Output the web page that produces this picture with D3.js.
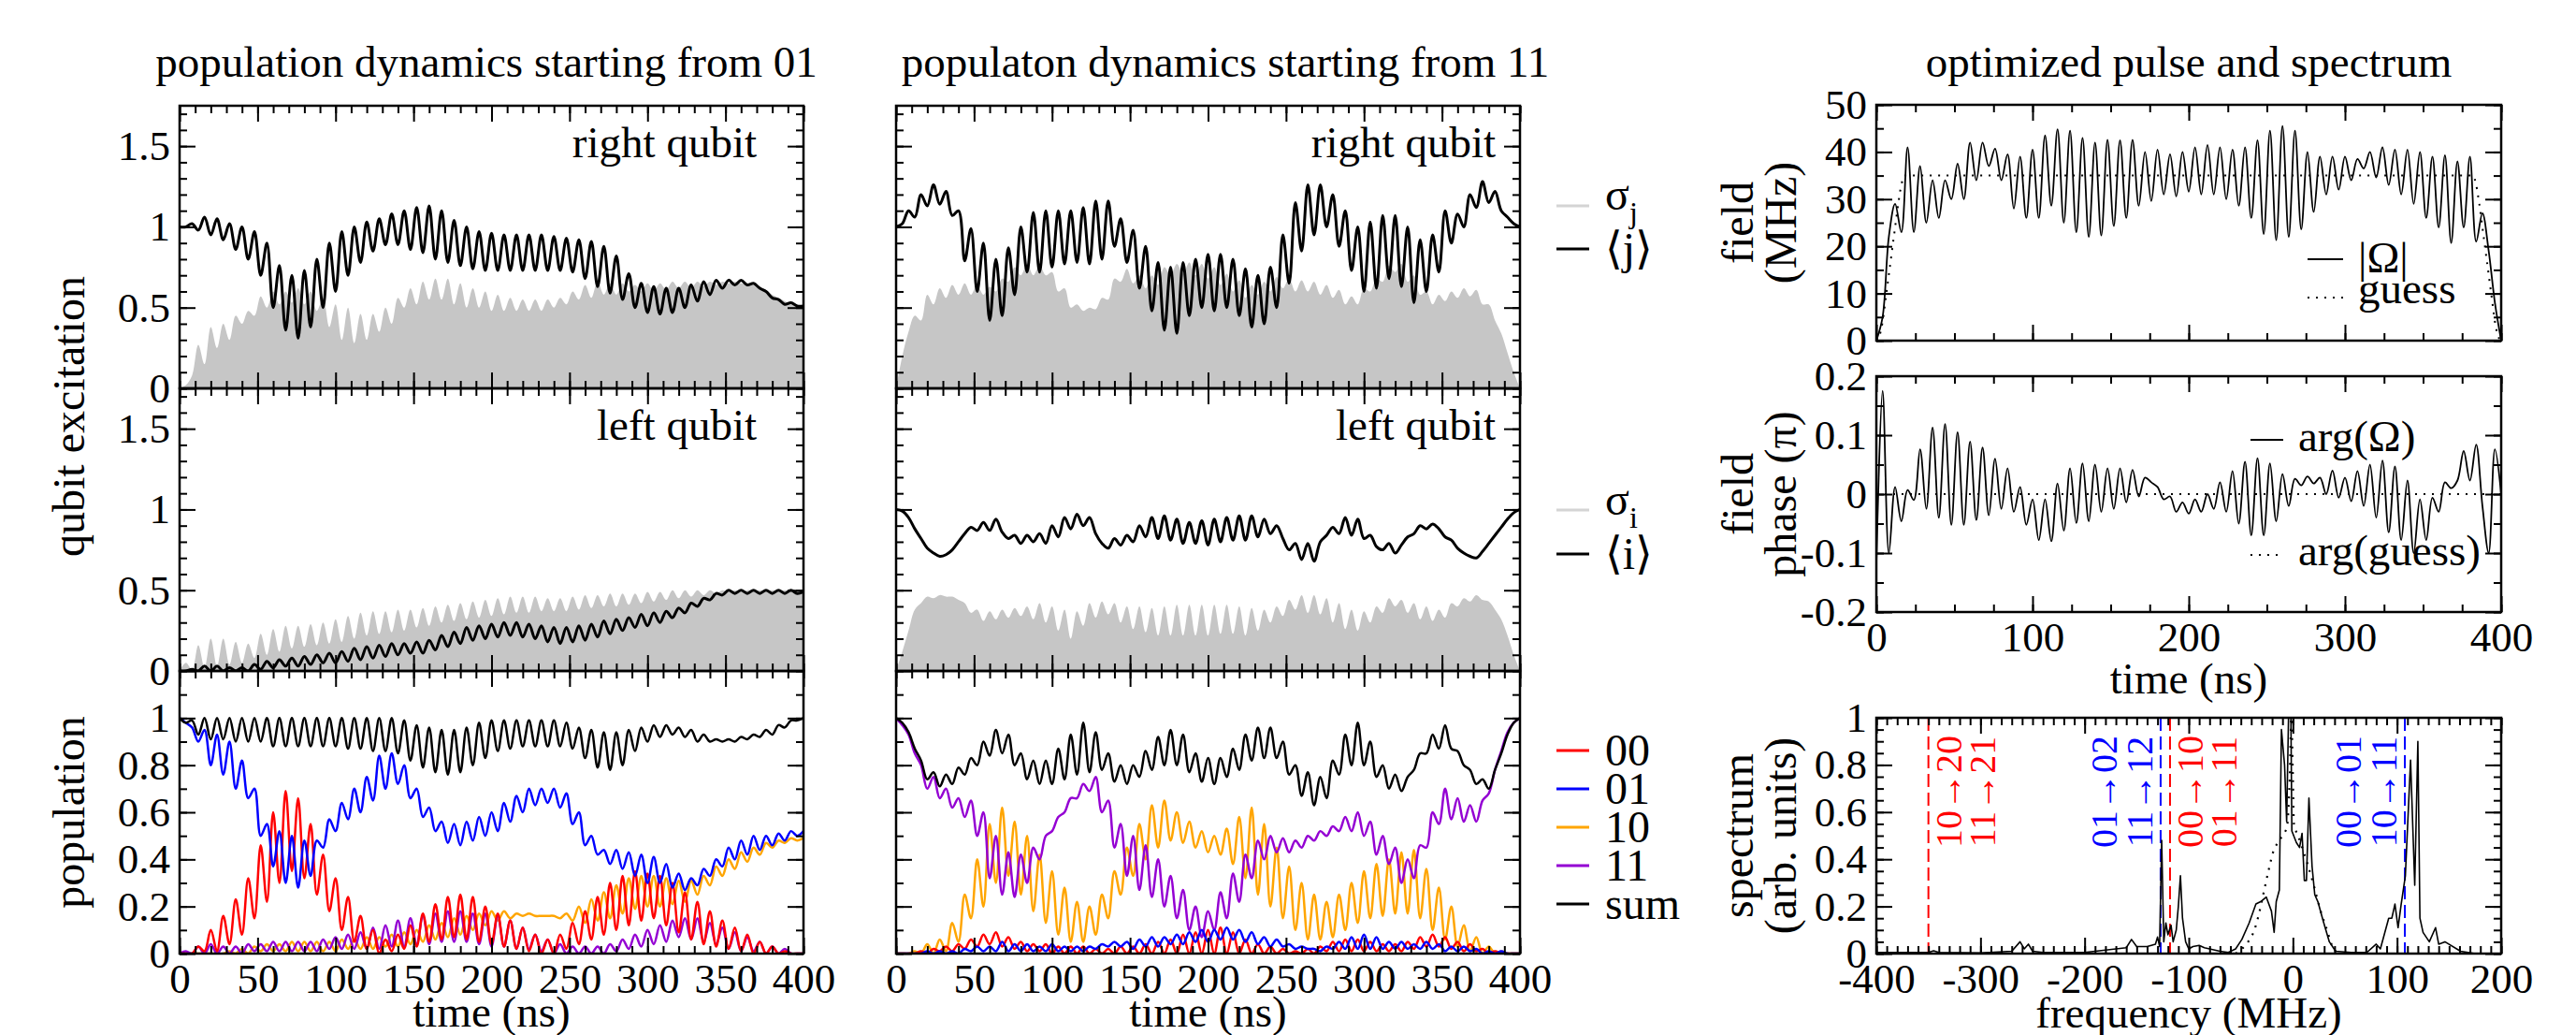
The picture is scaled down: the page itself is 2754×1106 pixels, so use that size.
<!DOCTYPE html>
<html>
<head>
<meta charset="utf-8">
<script src="https://d3js.org/d3.v7.min.js"></script>
<style>
body { margin: 0; background: #fff; }
svg text { font-family: "Liberation Serif", "DejaVu Serif", serif; fill: #000; }
</style>
</head>
<body>
<svg id="chart" width="2754" height="1106"></svg>
<script>
// sampling grid of the dynamics (ns)
var tGrid = d3.range(0, 401, 4);

// ---- population dynamics starting from 01 ----
var sigmaJ01 = [0,0.02,0.08,0.27,0.15,0.38,0.25,0.4,0.3,0.45,
	0.4,0.48,0.45,0.57,0.5,0.6,0.52,0.6,0.53,0.62,
	0.52,0.6,0.48,0.56,0.38,0.52,0.3,0.5,0.28,0.46,
	0.3,0.46,0.35,0.5,0.4,0.56,0.5,0.62,0.52,0.66,
	0.55,0.68,0.55,0.68,0.52,0.65,0.5,0.62,0.5,0.6,
	0.48,0.58,0.48,0.56,0.48,0.55,0.48,0.55,0.48,0.55,
	0.5,0.56,0.52,0.6,0.55,0.64,0.56,0.66,0.58,0.65,
	0.58,0.65,0.6,0.64,0.6,0.65,0.6,0.65,0.61,0.66,
	0.62,0.66,0.62,0.66,0.63,0.66,0.64,0.66,0.65,0.66,
	0.65,0.65,0.64,0.63,0.61,0.58,0.56,0.54,0.52,0.51,0.5];
var meanJ01 = [1.0,1.0,1.02,0.98,1.06,0.95,1.05,0.92,1.02,0.86,
	1.0,0.8,0.97,0.7,0.9,0.5,0.76,0.36,0.7,0.31,
	0.73,0.38,0.8,0.5,0.9,0.6,0.97,0.7,1.0,0.78,
	1.03,0.85,1.05,0.89,1.08,0.89,1.1,0.86,1.12,0.84,
	1.13,0.8,1.1,0.78,1.04,0.76,1.0,0.74,0.97,0.73,
	0.96,0.73,0.95,0.73,0.95,0.73,0.95,0.73,0.95,0.73,
	0.94,0.73,0.93,0.72,0.92,0.68,0.91,0.63,0.88,0.59,
	0.82,0.55,0.71,0.5,0.65,0.47,0.63,0.46,0.62,0.47,
	0.62,0.5,0.64,0.54,0.66,0.58,0.67,0.62,0.67,0.64,
	0.67,0.64,0.65,0.62,0.6,0.56,0.55,0.52,0.53,0.51,0.51];
var sigmaI01 = [0,0.05,0.01,0.16,0.02,0.2,0.03,0.2,0.04,0.18,
	0.05,0.17,0.08,0.23,0.1,0.26,0.12,0.28,0.14,0.28,
	0.15,0.29,0.16,0.3,0.17,0.32,0.18,0.34,0.2,0.36,
	0.22,0.37,0.23,0.37,0.24,0.38,0.25,0.38,0.27,0.39,
	0.28,0.4,0.3,0.41,0.31,0.42,0.32,0.43,0.33,0.44,
	0.34,0.45,0.35,0.46,0.36,0.46,0.36,0.46,0.37,0.45,
	0.37,0.45,0.37,0.46,0.38,0.47,0.39,0.47,0.4,0.48,
	0.4,0.48,0.41,0.48,0.42,0.49,0.43,0.49,0.44,0.5,
	0.45,0.5,0.46,0.5,0.47,0.5,0.48,0.5,0.49,0.5,
	0.49,0.5,0.5,0.5,0.5,0.5,0.5,0.5,0.5,0.5,0.5];
var meanI01 = [0,0,0.01,0,0.03,0,0.03,0,0.02,0,
	0.02,0,0.04,0.01,0.06,0.02,0.07,0.03,0.08,0.03,
	0.09,0.04,0.1,0.05,0.11,0.05,0.12,0.06,0.14,0.07,
	0.15,0.08,0.16,0.09,0.17,0.1,0.17,0.11,0.18,0.11,
	0.19,0.13,0.22,0.15,0.24,0.17,0.27,0.19,0.28,0.2,
	0.29,0.21,0.3,0.22,0.3,0.21,0.29,0.2,0.28,0.18,
	0.27,0.17,0.27,0.18,0.28,0.19,0.29,0.21,0.31,0.23,
	0.32,0.25,0.33,0.27,0.35,0.28,0.36,0.3,0.37,0.33,
	0.39,0.36,0.42,0.4,0.45,0.44,0.48,0.47,0.5,0.48,
	0.5,0.48,0.5,0.48,0.5,0.48,0.5,0.48,0.5,0.48,0.49];
var pop00From01 = [0,0,0,0.03,0.01,0.1,0.01,0.16,0.04,0.23,
	0.08,0.32,0.15,0.46,0.22,0.6,0.3,0.69,0.35,0.66,
	0.32,0.55,0.25,0.42,0.18,0.32,0.1,0.24,0.05,0.16,
	0.02,0.1,0,0.06,0.01,0.08,0.02,0.12,0.03,0.17,
	0.05,0.21,0.06,0.24,0.07,0.25,0.06,0.24,0.05,0.2,
	0.04,0.17,0.03,0.14,0.02,0.11,0.01,0.08,0,0.06,
	0,0.08,0.02,0.13,0.04,0.18,0.06,0.24,0.08,0.3,
	0.1,0.33,0.12,0.35,0.14,0.34,0.15,0.33,0.12,0.3,
	0.09,0.26,0.06,0.22,0.04,0.18,0.03,0.14,0.02,0.11,
	0.01,0.08,0,0.05,0,0.03,0,0.01,0,0,0];
var pop01From01 = [1.0,0.98,0.96,0.9,0.95,0.8,0.93,0.76,0.9,0.7,
	0.82,0.66,0.7,0.5,0.55,0.37,0.52,0.3,0.5,0.28,
	0.48,0.33,0.48,0.45,0.57,0.52,0.64,0.57,0.7,0.6,
	0.75,0.65,0.84,0.7,0.85,0.72,0.8,0.66,0.7,0.58,
	0.62,0.52,0.56,0.47,0.55,0.46,0.56,0.48,0.58,0.5,
	0.6,0.52,0.64,0.56,0.67,0.6,0.7,0.63,0.7,0.64,
	0.7,0.62,0.68,0.55,0.6,0.46,0.5,0.42,0.44,0.38,
	0.44,0.36,0.43,0.33,0.42,0.3,0.41,0.3,0.38,0.28,
	0.34,0.27,0.32,0.29,0.36,0.33,0.4,0.37,0.45,0.4,
	0.48,0.42,0.5,0.44,0.5,0.46,0.51,0.48,0.52,0.5,0.52];
var pop10From01 = [0,0,0,0,0,0,0,0,0.01,0,
	0.02,0,0.03,0.01,0.04,0.01,0.04,0.01,0.05,0.01,
	0.05,0.01,0.05,0.01,0.05,0.01,0.06,0.02,0.06,0.02,
	0.07,0.02,0.07,0.03,0.08,0.03,0.09,0.04,0.1,0.05,
	0.12,0.06,0.13,0.07,0.15,0.08,0.16,0.1,0.17,0.12,
	0.18,0.14,0.18,0.15,0.17,0.16,0.17,0.16,0.16,0.16,
	0.16,0.15,0.17,0.14,0.2,0.13,0.23,0.14,0.26,0.15,
	0.29,0.17,0.32,0.19,0.33,0.2,0.33,0.2,0.32,0.21,
	0.31,0.22,0.31,0.25,0.33,0.29,0.37,0.33,0.4,0.36,
	0.43,0.39,0.45,0.42,0.47,0.45,0.48,0.47,0.49,0.48,0.49];
var pop11From01 = [0,0.01,0,0.03,0,0.04,0,0.03,0,0.03,
	0,0.04,0.01,0.04,0.01,0.05,0.01,0.05,0.01,0.05,
	0.01,0.05,0.01,0.06,0.02,0.07,0.02,0.08,0.02,0.09,
	0.02,0.11,0.02,0.12,0.03,0.14,0.03,0.15,0.04,0.16,
	0.04,0.17,0.05,0.18,0.05,0.18,0.05,0.17,0.04,0.17,
	0.03,0.16,0.03,0.14,0.02,0.11,0.02,0.08,0.01,0.06,
	0,0.04,0,0.03,0,0.03,0,0.03,0,0.04,
	0.01,0.06,0.02,0.08,0.03,0.1,0.04,0.12,0.05,0.14,
	0.07,0.15,0.06,0.15,0.05,0.13,0.04,0.11,0.02,0.09,
	0.01,0.07,0.01,0.05,0,0.03,0,0.02,0,0,0];
var popSumFrom01 = [1.0,0.98,0.99,0.93,1.0,0.91,1.0,0.91,1.0,0.9,
	1.0,0.9,1.0,0.9,1.0,0.88,1.0,0.88,1.0,0.88,
	1.0,0.88,1.0,0.88,1.0,0.88,1.0,0.87,1.0,0.87,
	1.0,0.86,1.0,0.86,1.0,0.85,0.99,0.82,0.97,0.79,
	0.96,0.77,0.95,0.76,0.95,0.77,0.96,0.8,0.98,0.83,
	0.99,0.86,0.99,0.87,0.99,0.88,0.99,0.88,0.99,0.88,
	0.99,0.88,0.98,0.87,0.96,0.83,0.95,0.79,0.94,0.78,
	0.94,0.8,0.95,0.86,0.96,0.9,0.97,0.92,0.97,0.93,
	0.96,0.92,0.95,0.9,0.93,0.9,0.91,0.9,0.91,0.9,
	0.92,0.91,0.93,0.92,0.95,0.93,0.97,0.96,0.99,0.99,1.0];

// ---- population dynamics starting from 11 ----
var sigmaJ11 = [0,0.2,0.35,0.45,0.42,0.58,0.52,0.62,0.56,0.64,
	0.58,0.65,0.58,0.64,0.58,0.63,0.6,0.68,0.66,0.75,
	0.7,0.77,0.7,0.76,0.7,0.72,0.6,0.62,0.5,0.52,
	0.48,0.5,0.49,0.56,0.55,0.68,0.66,0.74,0.65,0.7,
	0.62,0.7,0.64,0.75,0.7,0.77,0.71,0.78,0.7,0.77,
	0.68,0.75,0.64,0.71,0.6,0.67,0.56,0.64,0.58,0.66,
	0.6,0.69,0.62,0.68,0.6,0.67,0.6,0.66,0.58,0.64,
	0.56,0.61,0.52,0.57,0.52,0.62,0.6,0.68,0.66,0.76,
	0.72,0.77,0.66,0.7,0.58,0.6,0.52,0.58,0.54,0.6,
	0.56,0.62,0.57,0.61,0.52,0.52,0.42,0.34,0.22,0.1,0];
var meanJ11 = [1.0,1.02,1.1,1.06,1.2,1.13,1.26,1.14,1.22,1.07,
	1.1,0.79,0.99,0.6,0.9,0.42,0.8,0.45,0.87,0.58,
	1.0,0.72,1.09,0.72,1.1,0.75,1.1,0.77,1.1,0.78,
	1.12,0.77,1.16,0.8,1.16,0.88,1.05,0.78,0.98,0.62,
	0.88,0.48,0.78,0.36,0.75,0.34,0.78,0.45,0.8,0.5,
	0.83,0.48,0.83,0.5,0.8,0.45,0.74,0.38,0.7,0.4,
	0.75,0.5,0.95,0.65,1.15,0.85,1.26,0.95,1.26,1.0,
	1.2,0.88,1.1,0.73,1.0,0.6,1.03,0.62,1.07,0.68,
	1.07,0.63,1.0,0.53,0.92,0.6,0.95,0.72,1.1,0.9,
	1.08,1.0,1.2,1.12,1.28,1.15,1.22,1.1,1.06,1.02,1.0];
var sigmaI11 = [0,0.12,0.25,0.38,0.42,0.46,0.45,0.47,0.46,0.46,
	0.44,0.42,0.36,0.38,0.31,0.37,0.32,0.38,0.33,0.39,
	0.34,0.4,0.32,0.42,0.3,0.4,0.25,0.38,0.2,0.37,
	0.28,0.42,0.33,0.43,0.35,0.42,0.3,0.4,0.26,0.4,
	0.24,0.39,0.22,0.4,0.22,0.41,0.22,0.41,0.22,0.41,
	0.22,0.41,0.23,0.41,0.23,0.4,0.22,0.39,0.25,0.38,
	0.3,0.4,0.34,0.44,0.38,0.47,0.36,0.47,0.35,0.45,
	0.3,0.42,0.26,0.38,0.25,0.37,0.3,0.4,0.36,0.45,
	0.4,0.44,0.36,0.42,0.32,0.4,0.31,0.38,0.33,0.42,
	0.4,0.45,0.43,0.47,0.44,0.43,0.38,0.32,0.22,0.1,0];
var meanI11 = [1.0,0.99,0.95,0.88,0.82,0.76,0.73,0.71,0.72,0.75,
	0.8,0.85,0.89,0.87,0.92,0.87,0.94,0.86,0.82,0.84,
	0.79,0.84,0.8,0.85,0.79,0.9,0.83,0.95,0.88,0.97,
	0.9,0.95,0.85,0.79,0.76,0.82,0.78,0.84,0.8,0.9,
	0.83,0.95,0.82,0.96,0.81,0.94,0.79,0.92,0.79,0.93,
	0.78,0.94,0.8,0.95,0.81,0.96,0.81,0.96,0.83,0.94,
	0.85,0.9,0.82,0.75,0.79,0.69,0.79,0.68,0.8,0.84,
	0.89,0.85,0.95,0.84,0.94,0.82,0.84,0.77,0.75,0.79,
	0.73,0.78,0.83,0.85,0.9,0.88,0.91,0.88,0.83,0.81,
	0.76,0.73,0.71,0.7,0.74,0.79,0.84,0.89,0.94,0.98,1.0];
var pop00From11 = [0,0,0,0,0.01,0,0.02,0.01,0.03,0.01,
	0.04,0.02,0.06,0.03,0.08,0.04,0.09,0.03,0.07,0.02,
	0.05,0.01,0.04,0.01,0.04,0,0.03,0,0.03,0,
	0.03,0,0.02,0,0.02,0,0.03,0,0.03,0,
	0.04,0,0.05,0,0.06,0,0.08,0,0.09,0,
	0.1,0,0.11,0,0.09,0,0.06,0,0.04,0,
	0.03,0,0.02,0,0.01,0,0.02,0,0.03,0.01,
	0.05,0.01,0.06,0.01,0.06,0.01,0.05,0.01,0.04,0.01,
	0.04,0.01,0.05,0.02,0.07,0.03,0.08,0.03,0.07,0.02,
	0.05,0.01,0.04,0.01,0.02,0,0.01,0,0,0,0];
var pop01From11 = [0,0,0,0,0,0.01,0,0.01,0,0.01,
	0,0.02,0.01,0.03,0.01,0.03,0.01,0.05,0.01,0.04,
	0.01,0.04,0.01,0.03,0.01,0.04,0.01,0.03,0.01,0.03,
	0.01,0.03,0.02,0.04,0.03,0.05,0.03,0.05,0.02,0.06,
	0.03,0.07,0.03,0.07,0.04,0.08,0.04,0.09,0.05,0.1,
	0.05,0.1,0.06,0.11,0.06,0.1,0.05,0.09,0.04,0.07,
	0.03,0.06,0.03,0.04,0.02,0.03,0.02,0.02,0.01,0.03,
	0.02,0.05,0.02,0.07,0.02,0.08,0.02,0.07,0.02,0.05,
	0.02,0.05,0.02,0.04,0.02,0.05,0.02,0.04,0.01,0.03,
	0.01,0.03,0.01,0.02,0,0.01,0,0.01,0,0,0];
var pop10From11 = [0,0,0,0.01,0,0.04,0,0.06,0.01,0.13,
	0.05,0.25,0.15,0.4,0.2,0.55,0.3,0.62,0.33,0.56,
	0.25,0.5,0.18,0.42,0.13,0.35,0.08,0.28,0.05,0.22,
	0.05,0.2,0.08,0.25,0.15,0.35,0.25,0.45,0.33,0.55,
	0.4,0.63,0.45,0.65,0.48,0.6,0.47,0.56,0.45,0.52,
	0.43,0.5,0.42,0.53,0.38,0.58,0.32,0.62,0.25,0.55,
	0.2,0.45,0.15,0.37,0.1,0.3,0.06,0.25,0.06,0.22,
	0.07,0.25,0.1,0.3,0.13,0.35,0.15,0.38,0.16,0.4,
	0.17,0.43,0.17,0.44,0.15,0.36,0.1,0.28,0.06,0.2,
	0.03,0.12,0.01,0.07,0,0.03,0,0.01,0,0,0];
var pop11From11 = [1.0,0.97,0.93,0.85,0.8,0.7,0.75,0.66,0.7,0.62,
	0.66,0.58,0.65,0.5,0.6,0.32,0.5,0.25,0.43,0.24,
	0.42,0.3,0.45,0.4,0.5,0.52,0.58,0.6,0.66,0.66,
	0.72,0.69,0.75,0.6,0.65,0.45,0.55,0.33,0.5,0.27,
	0.46,0.24,0.4,0.2,0.33,0.15,0.27,0.1,0.2,0.07,
	0.18,0.1,0.26,0.15,0.34,0.22,0.42,0.32,0.48,0.4,
	0.5,0.43,0.49,0.43,0.48,0.45,0.5,0.48,0.52,0.5,
	0.54,0.52,0.58,0.52,0.6,0.5,0.56,0.42,0.5,0.38,
	0.45,0.3,0.4,0.32,0.46,0.45,0.6,0.55,0.7,0.57,
	0.66,0.56,0.63,0.56,0.65,0.68,0.78,0.86,0.94,0.98,1.0];
var popSumFrom11 = [1.0,0.98,0.94,0.87,0.82,0.74,0.77,0.71,0.76,0.72,
	0.79,0.76,0.83,0.8,0.9,0.84,0.95,0.85,0.93,0.8,
	0.85,0.74,0.82,0.72,0.82,0.72,0.87,0.74,0.93,0.76,
	0.98,0.77,0.94,0.78,0.85,0.73,0.8,0.72,0.8,0.75,
	0.86,0.78,0.92,0.8,0.95,0.8,0.93,0.77,0.85,0.73,
	0.83,0.72,0.83,0.75,0.87,0.78,0.93,0.82,0.96,0.83,
	0.96,0.83,0.9,0.76,0.8,0.67,0.77,0.63,0.75,0.66,
	0.82,0.76,0.93,0.8,0.98,0.8,0.9,0.75,0.8,0.7,
	0.76,0.69,0.75,0.78,0.85,0.85,0.93,0.87,0.97,0.87,
	0.86,0.8,0.78,0.72,0.74,0.7,0.78,0.85,0.93,0.98,1.0];

// ---- optimized pulse ----
var fieldAbs = [0,5,22,29,23,41,23,37,25,34,
	26,34,30,37.5,30,42,34,42,37,40.7,
	34,39.5,28,39,26,40.5,26,43.5,28.6,44.8,
	25,44.5,23,43,22,42,22.3,42.6,24.3,42.5,
	26,42.6,28.6,40,29.6,40.5,31,39.5,30.6,40,
	31.6,41,31,41.5,31,41,30,40.5,28.6,41,
	26,42.5,22.6,44.5,21.3,45.5,22,44.5,23.6,40,
	27.3,39,31,39,32,39,34,38.5,36.5,40,
	34.6,41,33,40.5,31,40.5,29,40,26,39,
	24,39.3,20.7,38,24,39,21,27,19,8,0];
var guessTime = [0,2,4,6,8,10,12,14,16,18,382,384,386,388,390,392,394,396,398,400];
var guessAbs = [0,1,4,9,14,19,24,29,33,35,35,33,29,24,19,14,9,4,1,0];
var fieldPhase = [-0.12,0.175,-0.1,0.012,-0.046,0.007,-0.01,0.076,-0.025,0.113,
	-0.04,0.119,-0.052,0.105,-0.052,0.089,-0.044,0.079,-0.036,0.06,
	-0.025,0.044,-0.03,0.012,-0.052,-0.009,-0.078,-0.009,-0.08,0.018,
	-0.062,0.044,-0.049,0.052,-0.046,0.05,-0.03,0.044,-0.025,0.044,
	-0.014,0.041,-0.004,0.028,0.02,0.012,-0.009,-0.004,-0.03,-0.014,
	-0.033,-0.009,-0.03,0,-0.025,0.02,-0.03,0.039,-0.05,0.055,
	-0.07,0.061,-0.07,0.052,-0.046,0.034,-0.02,0.026,0.015,0.03,
	0.018,0.028,0,0.04,-0.006,0.028,-0.012,0.039,-0.02,0.05,
	-0.04,0.057,-0.065,0.047,-0.078,0.023,-0.1,-0.009,-0.078,-0.006,
	-0.03,0.02,0.01,0.023,0.073,0.023,0.084,-0.02,-0.1,0.076,0];
var guessPhaseTime = [0, 400];
var guessPhase = [0, 0];

// ---- spectrum ----
var specFreq = [-400,-350,-345,-340,-300,-270,-262,-258,-254,-250,-240,-200,-170,-160,-155,-150,-140,-132,-130,-128,
	-126,-124,-122,-120,-117,-115,-112,-110,-108,-106,-103,-100,-96,-90,-85,-80,-70,-62,-55,-49,
	-42,-35.5,-31,-25.6,-20.6,-18,-16,-13,-11,-8,-6,-4,-2,-1,3.4,6.4,8.8,11,13,15.4,
	18.4,21,24,29,35,41,56,71,80,84,92,95,98,101,104,108,113,117,120,122,
	125,131,137,140,146,161,175,200];
var specVal = [0.005,0.005,0.012,0.005,0.003,0.01,0.05,0.02,0.04,0.01,0.005,0.005,0.02,0.025,0.06,0.03,0.03,0.04,0.07,0.03,
	0.48,0.05,0.13,0.08,0.12,0.05,0.1,0.2,0.33,0.15,0.05,0.02,0.03,0.035,0.025,0.02,0.01,0.005,0.02,0.06,
	0.13,0.21,0.22,0.24,0.18,0.09,0.22,0.27,0.95,0.8,0.56,1.05,1.05,0.52,0.47,0.45,0.51,0.31,0.31,0.66,
	0.37,0.25,0.22,0.14,0.05,0.01,0.005,0.005,0.04,0.02,0.15,0.15,0.21,0.11,0.21,0.33,0.82,0.29,0.9,0.15,
	0.09,0.05,0.11,0.04,0.05,0.01,0,0];
var specGuessFreq = [-55,-49,-43,-37,-32.5,-28,-23.5,-19,-14.6,-10,-5.6,-3,-1.5,0,1,5,14,20,26,32,38,44];
var specGuessVal = [0,0.02,0.05,0.1,0.17,0.26,0.35,0.43,0.47,0.5,0.54,0.75,1.0,0.75,0.55,0.5,0.38,0.29,0.19,0.11,0.03,0];
var transFreq = [-350, -127, -118, 107.5];
var transColor = ["#ff0000", "#0000ff", "#ff0000", "#0000ff"];
var transLabels = [["10→20", "11→21"], ["01→02", "11→12"], ["00→10", "01→11"], ["00→01", "10→11"]];
var transSide = [1, -1, 1, -1];

// ---- ticks and labels ----
var timeTicks = [0, 50, 100, 150, 200, 250, 300, 350, 400];
var excitationTicks = [0, 0.5, 1, 1.5];
var populationTicks = [0, 0.2, 0.4, 0.6, 0.8, 1];
var pulseTimeTicks = [0, 100, 200, 300, 400];
var fieldTicks = [0, 10, 20, 30, 40, 50];
var phaseTicks = [-0.2, -0.1, 0, 0.1, 0.2];
var freqTicks = [-400, -300, -200, -100, 0, 100, 200];
var spectrumTicks = [0, 0.2, 0.4, 0.6, 0.8, 1];
var popNames = ["00", "01", "10", "11", "sum"];
var popColors = ["#ff0000", "#0000ff", "#ffa500", "#9400d3", "#000000"];

var GREY = "#c6c6c6";
var FONT = '"Liberation Serif","DejaVu Serif",serif';

var svg = d3.select("#chart");
svg.append("rect").attr("width", 2754).attr("height", 1106).attr("fill", "#fff");

var clipCount = 0;

// Create a framed panel with scales:
function createPanel(p)
{
	var g = svg.append("g")
		.attr("transform", "translate(" + p.left + "," + p.top + ")");
	var x = d3.scaleLinear().domain(p.xDomain).range([0, p.width]);
	var y = d3.scaleLinear().domain(p.yDomain).range([p.height, 0]);
	var id = "clip" + (clipCount++);
	g.append("clipPath").attr("id", id)
		.append("rect").attr("width", p.width).attr("height", p.height);
	var plot = g.append("g").attr("clip-path", "url(#" + id + ")");
	return { g: g, x: x, y: y, plot: plot, p: p };
}

// Inward ticks on all four sides plus the frame:
function finishPanel(panel)
{
	var p = panel.p, g = panel.g;
	var fmt = function(d){ return String(d); };
	var sides = [
		{ make: d3.axisBottom, scale: panel.x, tr: "0," + p.height, major: p.xMajor, minor: p.xMinor, labels: p.xLabels },
		{ make: d3.axisTop, scale: panel.x, tr: "0,0", major: p.xMajor, minor: p.xMinor, labels: false },
		{ make: d3.axisLeft, scale: panel.y, tr: "0,0", major: p.yMajor, minor: p.yMinor, labels: p.yLabels },
		{ make: d3.axisRight, scale: panel.y, tr: p.width + ",0", major: p.yMajor, minor: p.yMinor, labels: false }
	];
	sides.forEach(function(s){
		var minorAxis = g.append("g").attr("transform", "translate(" + s.tr + ")")
			.call(s.make(s.scale).tickValues(s.minor).tickSize(-8).tickFormat(""));
		var majorAxis = g.append("g").attr("transform", "translate(" + s.tr + ")")
			.call(s.make(s.scale).tickValues(s.major).tickSize(-17).tickPadding(10)
				.tickFormat(s.labels ? fmt : ""));
		[minorAxis, majorAxis].forEach(function(ax){
			ax.select(".domain").remove();
			ax.attr("font-family", FONT).attr("font-size", 45);
			ax.selectAll("line").attr("stroke", "#000").attr("stroke-width", 2);
			ax.selectAll("text").attr("fill", "#000");
		});
	});
	g.append("rect")
		.attr("width", p.width).attr("height", p.height)
		.attr("fill", "none").attr("stroke", "#000").attr("stroke-width", 2.5);
}

function drawLine(panel, xs, ys, color, width, curve, dash)
{
	var line = d3.line()
		.x(function(d, i){ return panel.x(xs[i]); })
		.y(function(d){ return panel.y(d); })
		.curve(curve || d3.curveCatmullRom);
	panel.plot.append("path")
		.datum(ys)
		.attr("d", line)
		.attr("fill", "none")
		.attr("stroke", color)
		.attr("stroke-width", width)
		.attr("stroke-dasharray", dash || null)
		.attr("stroke-linejoin", "round");
}

function drawArea(panel, xs, ys, color)
{
	var area = d3.area()
		.x(function(d, i){ return panel.x(xs[i]); })
		.y0(panel.y(0))
		.y1(function(d){ return panel.y(d); })
		.curve(d3.curveCatmullRom);
	panel.plot.append("path").datum(ys).attr("d", area).attr("fill", color);
}

function addText(x, y, str, size, anchor, weight, rotate)
{
	var t = svg.append("text")
		.attr("font-size", size)
		.attr("text-anchor", anchor || "start")
		.attr("font-weight", weight || "normal")
		.text(str);
	if (rotate)
		t.attr("transform", "translate(" + x + "," + y + ") rotate(" + rotate + ")");
	else
		t.attr("x", x).attr("y", y);
	return t;
}

function legendLine(x1, x2, y, color, width, dash)
{
	svg.append("line")
		.attr("x1", x1).attr("x2", x2).attr("y1", y).attr("y2", y)
		.attr("stroke", color).attr("stroke-width", width)
		.attr("stroke-dasharray", dash || null);
}

// ---- dynamics columns ----
var columns = [
	{ left: 192, title: "population dynamics starting from 01", titleX: 520, yLabels: true, labelRight: 809,
	  sigmaJ: sigmaJ01, meanJ: meanJ01, sigmaI: sigmaI01, meanI: meanI01,
	  pops: [pop00From01, pop01From01, pop10From01, pop11From01, popSumFrom01] },
	{ left: 958, title: "populaton dynamics starting from 11", titleX: 1310, yLabels: false, labelRight: 1599,
	  sigmaJ: sigmaJ11, meanJ: meanJ11, sigmaI: sigmaI11, meanI: meanI11,
	  pops: [pop00From11, pop01From11, pop10From11, pop11From11, popSumFrom11] }
];

var colWidth = 667, rowHeight = 302, rowTops = [113, 415, 717];

columns.forEach(function(c){
	addText(c.titleX, 82, c.title, 47, "middle");

	var qubitRows = [
		{ top: rowTops[0], sigma: c.sigmaJ, mean: c.meanJ, name: "right qubit" },
		{ top: rowTops[1], sigma: c.sigmaI, mean: c.meanI, name: "left qubit" }
	];
	qubitRows.forEach(function(r){
		var panel = createPanel({
			left: c.left, top: r.top, width: colWidth, height: rowHeight,
			xDomain: [0, 400], yDomain: [0, 1.75],
			xMajor: timeTicks, xMinor: d3.range(0, 401, 10),
			yMajor: excitationTicks, yMinor: d3.range(0, 1.75, 0.1),
			xLabels: false, yLabels: c.yLabels
		});
		drawArea(panel, tGrid, r.sigma, GREY);
		drawLine(panel, tGrid, r.mean, "#000", 3);
		finishPanel(panel);
		addText(c.labelRight, r.top + 55, r.name, 47, "end");
	});

	var popPanel = createPanel({
		left: c.left, top: rowTops[2], width: colWidth, height: rowHeight,
		xDomain: [0, 400], yDomain: [0, 1.2],
		xMajor: timeTicks, xMinor: d3.range(0, 401, 10),
		yMajor: populationTicks, yMinor: d3.range(0, 1.2, 0.1),
		xLabels: true, yLabels: c.yLabels
	});
	[2, 3, 0, 1, 4].forEach(function(k){
		drawLine(popPanel, tGrid, c.pops[k], popColors[k], 2.5);
	});
	finishPanel(popPanel);
	addText(c.left + colWidth / 2, 1097, "time (ns)", 47, "middle");
});

addText(90, 445, "qubit excitation", 48, "middle", "normal", -90);
addText(90, 868, "population", 48, "middle", "normal", -90);

// ---- legends between middle and right columns ----
var legX1 = 1664, legX2 = 1699, legTextX = 1716;
function sigmaLegend(lineY, baseY, sub, color)
{
	legendLine(legX1, legX2, lineY, color, 3);
	var t = addText(legTextX, baseY, "", 48, "start");
	t.append("tspan").text("σ");
	t.append("tspan").attr("font-size", 32).attr("dy", 14).text(sub);
}
sigmaLegend(220, 224, "j", "#d4d4d4");
legendLine(legX1, legX2, 266, "#000", 3);
addText(legTextX, 282, "⟨j⟩", 48, "start");
sigmaLegend(545, 550, "i", "#d4d4d4");
legendLine(legX1, legX2, 592, "#000", 3);
addText(legTextX, 608, "⟨i⟩", 48, "start");

popNames.forEach(function(name, k){
	var ly = 802 + k * 41;
	legendLine(legX1, legX2, ly, popColors[k], 3);
	addText(legTextX, ly + 16, name, 48, "start");
});

// ---- right column: pulse ----
var rightLeft = 2006, rightWidth = 668, rightHeight = 252;
addText(2340, 82, "optimized pulse and spectrum", 47, "middle");

var fieldPanel = createPanel({
	left: rightLeft, top: 112, width: rightWidth, height: rightHeight,
	xDomain: [0, 400], yDomain: [0, 50],
	xMajor: pulseTimeTicks, xMinor: d3.range(0, 401, 25),
	yMajor: fieldTicks, yMinor: d3.range(0, 51, 5),
	xLabels: false, yLabels: true
});
drawLine(fieldPanel, guessTime, guessAbs, "#000", 2, d3.curveMonotoneX, "2,7");
drawLine(fieldPanel, tGrid, fieldAbs, "#000", 1.8);
finishPanel(fieldPanel);

var phasePanel = createPanel({
	left: rightLeft, top: 402, width: rightWidth, height: rightHeight,
	xDomain: [0, 400], yDomain: [-0.2, 0.2],
	xMajor: pulseTimeTicks, xMinor: d3.range(0, 401, 25),
	yMajor: phaseTicks, yMinor: d3.range(-0.2, 0.201, 0.05),
	xLabels: true, yLabels: true
});
drawLine(phasePanel, guessPhaseTime, guessPhase, "#000", 2, d3.curveLinear, "2,7");
drawLine(phasePanel, tGrid, fieldPhase, "#000", 1.8);
finishPanel(phasePanel);
addText(rightLeft + rightWidth / 2, 741, "time (ns)", 47, "middle");

// ---- right column: spectrum ----
var specPanel = createPanel({
	left: rightLeft, top: 767, width: rightWidth, height: rightHeight,
	xDomain: [-400, 200], yDomain: [0, 1],
	xMajor: freqTicks, xMinor: d3.range(-400, 201, 10),
	yMajor: spectrumTicks, yMinor: d3.range(0, 1.01, 0.05),
	xLabels: true, yLabels: true
});
transFreq.forEach(function(f, k){
	specPanel.plot.append("line")
		.attr("x1", specPanel.x(f)).attr("x2", specPanel.x(f))
		.attr("y1", 0).attr("y2", rightHeight)
		.attr("stroke", transColor[k]).attr("stroke-width", 2)
		.attr("stroke-dasharray", "14,6");
});
drawLine(specPanel, specGuessFreq, specGuessVal, "#000", 2.2, d3.curveMonotoneX, "2,7");
drawLine(specPanel, specFreq, specVal, "#000", 1.6, d3.curveLinear);
finishPanel(specPanel);
transFreq.forEach(function(f, k){
	var lx = rightLeft + specPanel.x(f);
	var offsets = transSide[k] > 0 ? [35, 71] : [-47, -9];
	transLabels[k].forEach(function(lab, j){
		addText(lx + offsets[j], 846, lab, 40, "middle", "normal", -90)
			.style("fill", transColor[k]);
	});
});
addText(rightLeft + rightWidth / 2, 1098, "frequency (MHz)", 47, "middle");

// right column axis titles (two lines, rotated)
[["field", "(MHz)", 238], ["field", "phase (π)", 528], ["spectrum", "(arb. units)", 893]].forEach(function(l){
	addText(1874, l[2], l[0], 48, "middle", "normal", -90);
	addText(1920, l[2], l[1], 48, "middle", "normal", -90);
});

// right column legends
legendLine(2467, 2505, 277, "#000", 2);
addText(2521, 291, "|Ω|", 47, "start");
legendLine(2467, 2505, 318, "#000", 2, "2,7");
addText(2521, 324, "guess", 47, "start");
legendLine(2406, 2441, 470, "#000", 2);
addText(2457, 482, "arg(Ω)", 47, "start");
legendLine(2406, 2441, 593, "#000", 2, "2,7");
addText(2457, 604, "arg(guess)", 47, "start");
</script>
</body>
</html>
